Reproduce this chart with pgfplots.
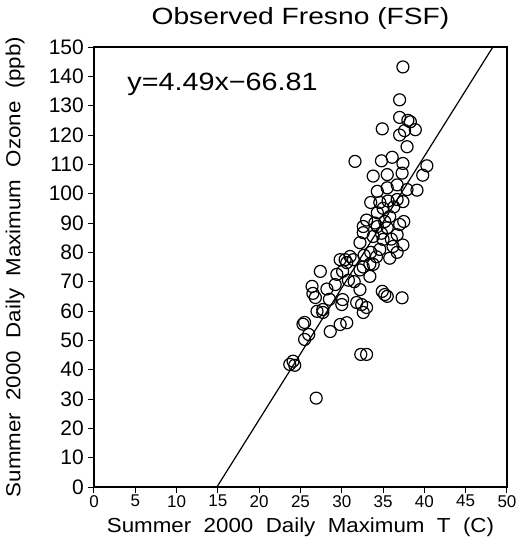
\documentclass[border=0pt]{standalone}
\usepackage{pgfplots}
\pgfplotsset{compat=1.18}
\usepackage{fontspec}
\setmainfont{Liberation Sans}
\newfontfamily\labf[FakeStretch=1.1]{Liberation Sans}
\newfontfamily\ttlf[FakeStretch=1.2]{Liberation Sans}
\newfontfamily\eqf[FakeStretch=1.15]{Liberation Sans}
\begin{document}
\begin{tikzpicture}
\begin{axis}[
  scale only axis,
  width=413pt, height=440pt,
  xmin=0, xmax=50, ymin=0, ymax=150,
  xtick={0,5,...,50}, ytick={0,10,...,150},
  tick align=outside, xtick pos=bottom, ytick pos=left,
  major tick length=6pt,
  axis line style={line width=1.5pt},
  every tick/.style={black, line width=1pt},
  /pgf/number format/assume math mode=true,
  xticklabel style={font=\fontsize{17}{20}\selectfont, inner sep=2pt},
  yticklabel style={font=\fontsize{21}{24}\selectfont, inner sep=4pt},
  title={Observed Fresno (FSF)},
  every axis title/.style={at={(axis description cs:0.5,1.064)}, anchor=center, font=\ttlf\fontsize{23.5}{26}\selectfont},
  xlabel={Summer\ \ 2000\ \ Daily\ \ Maximum\ \ T\ \ (C)},
  ylabel={Summer\ \ 2000\ \ Daily\ \ Maximum\ \ Ozone\ \ (ppb)},
  every axis x label/.style={at={(axis description cs:0.5,-0.091)}, anchor=center, font=\labf\fontsize{20.3}{23}\selectfont},
  every axis y label/.style={at={(axis description cs:-0.191,0.5)}, rotate=90, anchor=center, font=\labf\fontsize{20.3}{23}\selectfont},
  clip=true,
]
\addplot[only marks, mark=o, mark size=6pt, mark options={line width=1.2pt}] coordinates {
(37.4,143.2) (37.0,132) (37.0,126) (38.3,124.5) (38.9,121.8) (34.9,122.1)
(37.0,120) (37.9,116) (31.6,111) (34.8,111.2) (36.1,112.4) (37.4,110.3)
(40.3,109.5) (33.8,106) (35.5,106.5) (37.3,107) (39.8,106.3) (35.5,102)
(36.7,103) (34.3,100.8) (37.9,101.4) (39.1,101.2) (34.6,97) (36.7,98)
(37.4,97.3) (34.3,93.5) (35.0,95) (33.0,91) (35.8,92.2) (37.5,90.5)
(32.6,88.8) (34.3,88.8) (35.5,88.4) (37.0,89.5) (32.6,86.7) (33.8,85.4)
(36.7,86) (32.2,83.3) (35.0,84.4) (36.2,82) (37.4,82.5) (34.6,81)
(31.0,78.6) (30.4,77.5) (29.8,77.5) (31.4,77.5) (36.7,80) (32.6,75)
(33.4,76) (33.8,75.9) (30.6,76.5) (32.2,74) (33.4,71.8) (27.4,73.5)
(29.4,72.5) (30.1,73.5) (26.4,68.4) (29.2,69) (26.8,64.6) (26.5,66)
(32.2,67.3) (34.9,66.7) (35.2,65.6) (35.5,65.0) (37.3,64.5) (30.1,63.9)
(30.0,62.2) (31.8,62.9) (32.4,62.2) (33.0,61.2) (32.6,59.5) (27.0,59.9)
(27.7,59.5) (27.7,60.5) (25.5,56.1) (25.3,55.5) (29.8,55.4) (30.6,56)
(28.6,53) (25.5,50.3) (26.0,52) (23.7,41.8) (24.1,42.9) (24.3,41.5)
(32.3,45.2) (33.0,45.2) (26.9,30.3)
(34.0,90) (35.2,90.5) (36.3,95.5) (33.5,97) (35.6,97.5) (34.8,86.5)
(33.5,80) (35.8,78) (32.7,79) (28.2,67.5) (28.5,64) (31.5,70)
(30.8,70.5) (36.0,84.5) (34.2,78.5) (38.0,125) (37.6,121.5)
};
\addplot[black, line width=1.2pt] coordinates {(14.88,0) (48.29,150)};
\node[anchor=east, inner sep=0pt, font=\eqf\fontsize{25}{28}\selectfont] at (axis cs:27.1,137.4) {y=4.49x−66.81};
\end{axis}
\pgfresetboundingbox
\path (current axis.south west) ++(-94pt,-52pt) rectangle ++(518pt,539pt);
\end{tikzpicture}
\end{document}
